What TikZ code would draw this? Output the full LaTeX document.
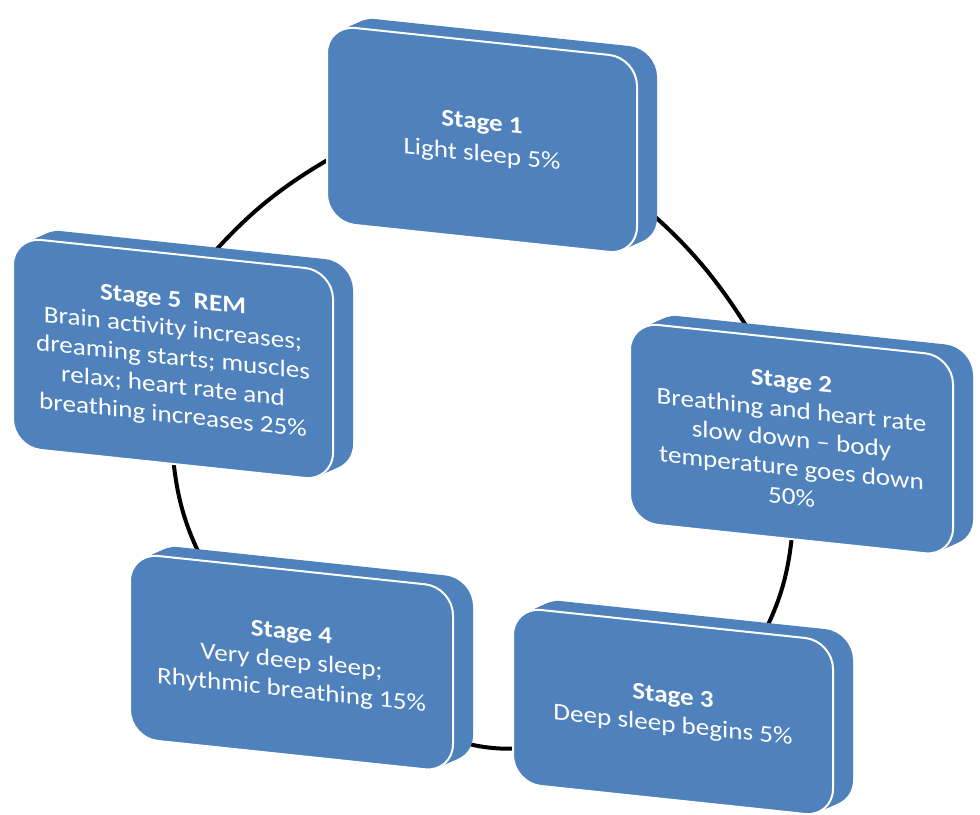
\documentclass[tikz,border=0pt]{standalone}
\usepackage{fontspec}
\setmainfont{Carlito}[FakeStretch=1.13]
\usetikzlibrary{calc}
\definecolor{boxblue}{RGB}{79,129,189}
\tikzset{
  conn/.style={line width=4pt, black},
  face/.style={fill=boxblue, draw=white, line width=2pt, rounded corners=28pt},
  backface/.style={fill=boxblue, rounded corners=28pt},
  lbl/.style={text=white, align=center, font=\fontsize{24}{29}\selectfont, transform shape, inner sep=0pt}
}
\newcommand\stagebox[6]{%
  \begin{scope}[shift={(#2,#3)}, cm={1,-0.106,0,1,(0,0)}]
    \foreach \t in {0.1,0.2,...,1.0}{\fill[backface] (20*\t,-11*\t) rectangle ++(#4,#5);}
    \draw[face] (0,0) rectangle (#4,#5);
    \node[lbl] (#1) at (#4/2,#5/2) {#6};
  \end{scope}}
\begin{document}
\begin{tikzpicture}[x=1pt,y=-1pt]
\useasboundingbox (0,0) rectangle (980,814);
% connector end points (hidden under the boxes)
\coordinate (c12a) at (620,187);
\coordinate (c12b) at (758,345);
\coordinate (c23a) at (793,525);
\coordinate (c23b) at (755,650);
\coordinate (c34a) at (530,748);
\coordinate (c34b) at (440,735);
\coordinate (c45a) at (210,575);
\coordinate (c45b) at (172,445);
\coordinate (c51a) at (200,268);
\coordinate (c51b) at (345,150);
\draw[conn] (c12a) to[bend left=10] (c12b);
\draw[conn] (c23a) to[bend left=12] (c23b);
\draw[conn] (c34a) to[bend left=12] (c34b);
\draw[conn] (c45a) to[bend left=12] (c45b);
\draw[conn] (c51a) to[bend left=10] (c51b);
% boxes
\stagebox{n1}{327}{25}{310}{197}{\textbf{Stage 1}\\[3pt]Light sleep 5\%}
\stagebox{n2}{630}{322}{323}{200}{\textbf{Stage 2}\\Breathing and heart rate\\slow down – body\\temperature goes down\\50\%}
\stagebox{n3}{513}{607}{320}{176}{\textbf{Stage 3}\\Deep sleep begins 5\%}
\stagebox{n4}{130}{553}{323}{185}{\textbf{Stage 4}\\Very deep sleep;\\Rhythmic breathing 15\%}
\stagebox{n5}{13}{237}{320}{210}{\textbf{Stage 5\ \ REM}\\Brain activity increases;\\dreaming starts; muscles\\relax; heart rate and\\breathing increases 25\%}
\end{tikzpicture}
\end{document}
